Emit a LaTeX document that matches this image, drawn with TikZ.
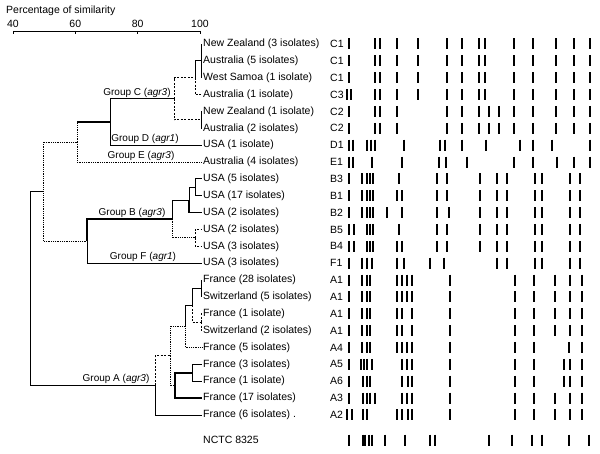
\documentclass[tikz,border=0pt]{standalone}
\usepackage{fontspec}
\setmainfont{Liberation Sans}
\usetikzlibrary{calc}

% row height of the strain list
\newcommand{\ry}[1]{44+16.86*#1}

\begin{document}
\begin{tikzpicture}[x=1pt,y=-1pt,
  every node/.style={inner sep=0pt,font=\fontsize{10.5}{12}\selectfont},
  br/.style={line width=0.8pt},
  dotbr/.style={line width=0.8pt,densely dotted},
  dashbr/.style={line width=0.8pt,dash pattern=on 2pt off 1.5pt},
  heavybr/.style={line width=1.8pt},
  band/.style={line width=2pt},
  leaf/.style={anchor=west,inner xsep=1pt},
  grp/.style={anchor=south,inner sep=1.5pt,font=\fontsize{10}{12}\selectfont}]
\useasboundingbox (0,0) rectangle (600,454);
%
% similarity scale
\node[anchor=west] (title) at (6,11) {Percentage of similarity};
\coordinate (s40) at (13,31);
\coordinate (s100) at (200,31);
\draw[br] (s40) -- (s100);
\foreach \p/\t in {0/40,1/60,2/80,3/100} {
  \coordinate (t\t) at ($(s40)!\p/3!(s100)$);
  \draw[br] (t\t) -- ++(0,3);
  \node[above=3pt] (n\t) at (t\t) {\t};
}
%
% strains and PFGE types
\foreach \lab/\code [count=\k from 0] in {
  New Zealand (3 isolates)/C1, Australia (5 isolates)/C1, West Samoa (1 isolate)/C1,
  Australia (1 isolate)/C3, New Zealand (1 isolate)/C2, Australia (2 isolates)/C2,
  USA (1 isolate)/D1, Australia (4 isolates)/E1, USA (5 isolates)/B3,
  USA (17 isolates)/B1, USA (2 isolates)/B2, USA (2 isolates)/B5,
  USA (3 isolates)/B4, USA (3 isolates)/F1, France (28 isolates)/A1,
  Switzerland (5 isolates)/A1, France (1 isolate)/A1, Switzerland (2 isolates)/A1,
  France (5 isolates)/A4, France (3 isolates)/A5, France (1 isolate)/A6,
  France (17 isolates)/A3, France (6 isolates) ./A2}
{
  \node[leaf] (l\k) at (202,{\ry{\k}}) {\lab};
  \node[anchor=west] (p\k) at (330,{\ry{\k}}) {\code};
}
\node[leaf] (nctc) at (202,440) {NCTC 8325};
%
% clusters
\coordinate (c012)  at (201,60.9);
\coordinate (c0123) at (195,77.7);
\coordinate (c45)   at (201,119.9);
\coordinate (cC)    at (174,98.8);
\coordinate (cCD)   at (110,122);
\coordinate (cCDE)  at (77,142);
\coordinate (b89)   at (195,187.3);
\coordinate (b810)  at (189,200);
\coordinate (b1112) at (195,237.9);
\coordinate (cB)    at (172,218.9);
\coordinate (cBF)   at (87,241);
\coordinate (cX)    at (43,191.5);
\coordinate (a1415) at (201,288.5);
\coordinate (a1617) at (201,322.2);
\coordinate (a1417) at (192,305.3);
\coordinate (a1418) at (185,326.4);
\coordinate (a1920) at (192,372.8);
\coordinate (a1921) at (175,385.4);
\coordinate (a1421) at (170,355.9);
\coordinate (cA)    at (155,385.4);
\coordinate (root)  at (30,288.5);

\foreach \c in {0,1,2} \draw[br] (c012) |- (l\c.west);
\draw[br] (c0123) |- (c012);
\draw[dashbr] (c0123) |- (l3.west);
\draw[br] (c45) |- (l4.west);
\draw[br] (c45) |- (l5.west);
\draw[dashbr] (cC) |- (c0123);
\draw[dashbr] (cC) |- (c45);
\draw[br] (cCD) |- (cC);
\draw[br] (cCD) |- (l6.west);
\draw[dotbr] (cCDE) -- (cCDE |- cCD);
\draw[heavybr] (cCDE |- cCD) -- (cCD);
\draw[dotbr] (cCDE) |- (l7.west);
\draw[br] (b89) |- (l8.west);
\draw[br] (b89) |- (l9.west);
\draw[br] (b810) |- (b89);
\draw[heavybr] (b810) |- (l10.west);
\draw[dashbr] (b1112) |- (l11.west);
\draw[dashbr] (b1112) |- (l12.west);
\draw[br] (cB) |- (b810);
\draw[dotbr] (cB) |- (b1112);
\draw[heavybr] (cBF) |- (cB);
\draw[br] (cBF) |- (l13.west);
\draw[dotbr] (cX) |- (cCDE);
\draw[dotbr] (cX) |- (cBF);
\draw[br] (a1415) |- (l14.west);
\draw[br] (a1415) |- (l15.west);
\draw[dashbr] (a1617) |- (l16.west);
\draw[dashbr] (a1617) |- (l17.west);
\draw[br] (a1417) |- (a1415);
\draw[dashbr] (a1417) |- (a1617);
\draw[br] (a1418) |- (a1417);
\draw[dotbr] (a1418) |- (l18.west);
\draw[br] (a1920) |- (l19.west);
\draw[br] (a1920) |- (l20.west);
\draw[heavybr] (a1921) |- (a1920);
\draw[heavybr] (a1921) |- (l21.west);
\draw[dotbr] (a1421) |- (a1418);
\draw[dotbr] (a1421) |- (a1921);
\draw[dashbr] (cA) |- (a1421);
\draw[br] (cA) |- (l22.west);
\draw[br] (root) |- (cX);
\draw[br] (root) |- (cA);
%
% group names
\node[grp] (gC) at (137,98.8)  {Group C (\textit{agr3})};
\node[grp] (gD) at (145,145.2) {Group D (\textit{agr1})};
\node[grp] (gE) at (141,162)   {Group E (\textit{agr3})};
\node[grp] (gB) at (132,218.9) {Group B (\textit{agr3})};
\node[grp] (gF) at (143,263.2) {Group F (\textit{agr1})};
\node[grp] (gA) at (116,385.4) {Group A (\textit{agr3})};
%
% band patterns
\begin{scope}[xshift=2pt]
\foreach \k/\xs in {
  0/{346.5,373,378,395,415.5,445,460,477,483,511.5,531,554,571.5,587.5},
  1/{346.5,373,378,395,415.5,445,460,477,483,511.5,531,554,571.5,587.5},
  2/{346.5,373,378,395,415.5,445,460,477,483,511.5,531,554,571.5,587.5},
  3/{345,349,373,378,395,415.5,445,460,477,483,511.5,531,554,571.5,587.5},
  4/{346.5,373,378,395,445,460,477,486.5,496.5,511.5,531,554,571.5,587.5},
  5/{346.5,373,378,395,445,460,477,486.5,496.5,511.5,531,554,571.5,587.5},
  6/{346.5,351,365,369,373,402,438,443,460,484,518,531,550,587.5},
  7/{346.5,351,370,400,436.5,444,465,511.5,531,555,571.5,588},
  8/{346.5,360,365,368,371,396.5,435,445,478,495,505,533,540,568,578},
  9/{346.5,360,365,368,371,395,400,435,445,478,495,505,533,540,568,578},
  10/{346.5,360,365,368,371,385,400,435,446.5,478,495,505,533,540,568,578},
  11/{346.5,351.5,365,368,371,396.5,435,445,478,495,505,533,540,568,578},
  12/{346.5,351.5,365,368,371,395,400,435,445,478,495,505,533,540,568,578},
  13/{346.5,360,365,370,395,401.5,428,441.5,495,505,533,540,568,578},
  14/{346.5,360,365,368,395,400,405,410,448,513,531.5,553,568,580},
  15/{346.5,360,365,368,395,400,405,410,448,513,531.5,553,568,580},
  16/{346.5,360,365,368,395,400,410,448,513,531.5,553,568,580},
  17/{346.5,360,365,368,395,400,410,448,513,531.5,553,568,580},
  18/{346.5,360,365,368,395,400,405,410,448,513,531.5,566.5,580},
  19/{346.5,359,362,365,370,400,405,410,448,513,531.5,561.5,568,580},
  20/{346.5,361,365,368,400,405.5,410,448,513,531.5,561.5,568,580},
  21/{346.5,361,365,368,373,400,405,410,448,513,531.5,553,568,580},
  22/{345,350,361,365,395,400,405.5,410,448,513,531.5,553,568,580}}
  \foreach \x in \xs
    \draw[band] (\x,{\ry{\k}-5.5}) -- ++(0,11);
\foreach \x in {346.5,361,363,366.5,370,383,403,428,433,487,510,530,540,566.5,586.5}
  \draw[band] (\x,434.5) -- ++(0,11);
\end{scope}
\end{tikzpicture}
\end{document}
